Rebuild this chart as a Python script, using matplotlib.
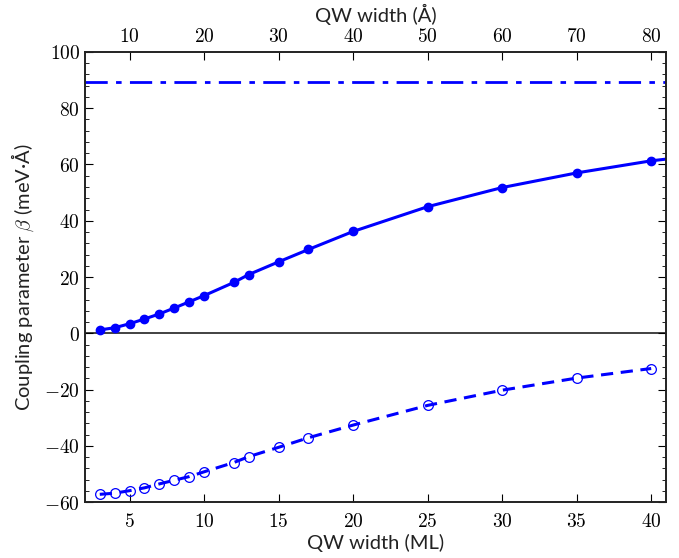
import numpy as np
import matplotlib
matplotlib.use('Agg')
import matplotlib.pyplot as plt
from matplotlib.ticker import MultipleLocator, FuncFormatter

plt.rcParams['mathtext.fontset'] = 'cm'

# QW width in monolayers, 1 ML = 2 Angstrom
ML_TO_AA = 2.0

width_ml = [3, 4, 5, 6, 7, 8, 9, 10, 12, 13, 15, 17, 20, 25, 30, 35, 40]
beta_pos = [1.2, 2.0, 3.4, 5.1, 6.9, 9.0, 11.2, 13.4, 18.1, 20.9, 25.4, 29.8,
            36.2, 45.0, 51.8, 57.0, 61.3]
beta_neg = [-57.2, -56.8, -55.9, -54.9, -53.5, -52.2, -50.9, -49.2, -45.9,
            -43.8, -40.5, -37.1, -32.6, -25.6, -20.2, -15.9, -12.5]
# solid curve runs on past the last point to the frame
curve_ml = width_ml + [41.5]
curve_pos = beta_pos + [62.2]
beta_bulk = 89.4

blue = '#0000ff'
lab = dict(fontsize=14.5, family='Lato', color='#222222')

fig = plt.figure(figsize=(6.79, 5.58), dpi=100)
ax = fig.add_axes([0.125, 0.100, 0.856, 0.807])

ax.axhline(0, color='#333333', lw=1.3, zorder=1)
ax.axhline(beta_bulk, color=blue, lw=2, ls='-.', dashes=(8, 3, 2, 3))
ax.plot(curve_ml, curve_pos, color=blue, lw=2.2)
ax.plot(width_ml, beta_pos, 'o', color=blue, ms=6, mec=blue)
ax.plot(width_ml, beta_neg, color=blue, lw=2.2, ls='--', dashes=(4, 2.5),
        marker='o', ms=7, mfc='none', mec=blue, mew=0.9)

ax.set_xlim(2.0, 41.0)
ax.set_ylim(-60, 100)

mfmt = FuncFormatter(lambda v, p: r'$%g$' % v if v >= 0 else r'$-%g$' % -v)
ax.xaxis.set_major_locator(MultipleLocator(5))
ax.yaxis.set_major_locator(MultipleLocator(20))
ax.yaxis.set_minor_locator(MultipleLocator(4))
ax.xaxis.set_major_formatter(mfmt)
ax.yaxis.set_major_formatter(mfmt)
ax.tick_params(which='both', direction='in', right=True, labelsize=14)
ax.tick_params(axis='x', top=False, which='major', length=6, pad=7)
ax.tick_params(axis='y', which='major', length=6)
ax.tick_params(axis='y', which='minor', length=3)

ax.set_xlabel('QW width (ML)', labelpad=2, **lab)
ax.set_ylabel(r'Coupling parameter $\beta$ (meV·Å)', labelpad=6, **lab)

top = ax.twiny()
top.set_xlim(2.0 * ML_TO_AA, 41.0 * ML_TO_AA)
top.xaxis.set_major_locator(MultipleLocator(10))
top.xaxis.set_major_formatter(mfmt)
top.tick_params(direction='in', length=6, labelsize=14, pad=4)
top.set_xlabel('QW width (Å)', labelpad=4, **lab)

for a in (ax, top):
    for s in a.spines.values():
        s.set_linewidth(1.2)
        s.set_color('#222222')

fig.savefig('out.png', dpi=100)
